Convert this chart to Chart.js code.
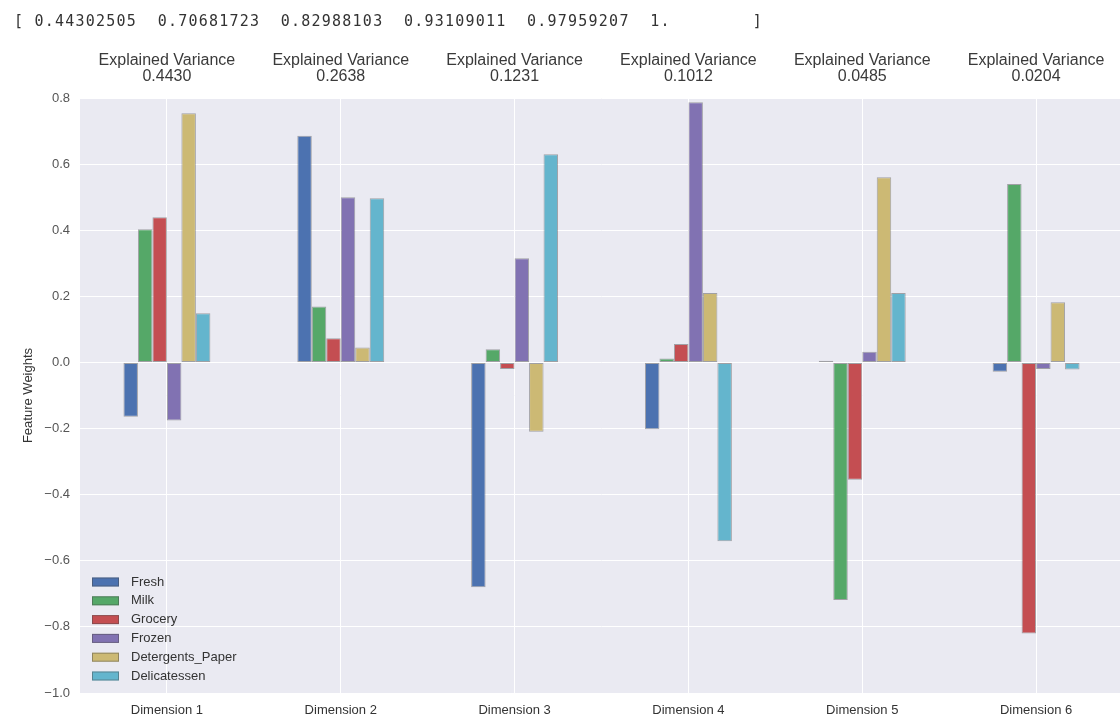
<!DOCTYPE html>
<html>
<head>
<meta charset="utf-8">
<title>PCA feature weights</title>
<script src="https://cdn.jsdelivr.net/npm/chart.js@4.4.0/dist/chart.umd.min.js"></script>
<style>
  html, body { margin: 0; padding: 0; background: #fff; }
  #wrap { position: relative; width: 1120px; height: 718px; overflow: hidden; }
  #pcaChart { position: absolute; left: 0; top: 0; }
  #cumulative {
    position: absolute; left: 14px; top: 11px; margin: 0;
    font: 15px "DejaVu Sans Mono", monospace; letter-spacing: 1.23px;
    color: #333; white-space: pre; line-height: 20px;
  }
</style>
</head>
<body>
<div id="wrap">
  <canvas id="pcaChart" width="1123" height="718"></canvas>
  <pre id="cumulative"></pre>
</div>
<script>
// Data
const cumulativeVariance = ['0.44302505', '0.70681723', '0.82988103', '0.93109011', '0.97959207', '1.        '];
const dimensions = ['Dimension 1', 'Dimension 2', 'Dimension 3', 'Dimension 4', 'Dimension 5', 'Dimension 6'];
const explainedVariance = [0.4430, 0.2638, 0.1231, 0.1012, 0.0485, 0.0204];

const fresh           = [-0.164, 0.686, -0.680, -0.202, 0.005, -0.028];
const milk            = [0.403, 0.169, 0.040, 0.012, -0.719, 0.540];
const grocery         = [0.439, 0.073, -0.020, 0.056, -0.355, -0.820];
const frozen          = [-0.176, 0.500, 0.315, 0.787, 0.032, -0.020];
const detergentsPaper = [0.754, 0.045, -0.210, 0.210, 0.560, 0.182];
const delicatessen    = [0.149, 0.497, 0.630, -0.541, 0.210, -0.021];

// ascending, same order Chart.js builds the ticks
const yTickLabels = ['\u22121.0', '\u22120.8', '\u22120.6', '\u22120.4', '\u22120.2', '0.0', '0.2', '0.4', '0.6', '0.8'];

const fontFamily = '"Liberation Sans", Arial, sans-serif';
Chart.defaults.font.family = fontFamily;

document.getElementById('cumulative').textContent = '[ ' + cumulativeVariance.join('  ') + ']';

function makeSet(label, data, color) {
  return {
    label: label,
    data: data,
    backgroundColor: color,
    borderColor: 'rgba(70, 70, 70, 0.45)',
    borderWidth: 1,
    borderSkipped: false,
    categoryPercentage: 0.5,
    barPercentage: 1.0
  };
}

// seaborn darkgrid background
const plotBackground = {
  id: 'plotBackground',
  beforeDraw(chart) {
    const { ctx, chartArea } = chart;
    ctx.save();
    ctx.fillStyle = '#EAEAF2';
    ctx.fillRect(chartArea.left, chartArea.top, chartArea.right - chartArea.left, chartArea.bottom - chartArea.top);
    ctx.restore();
  }
};

// "Explained Variance" heading over each dimension
const varianceTitles = {
  id: 'varianceTitles',
  afterDraw(chart) {
    const { ctx } = chart;
    const xScale = chart.scales.x;
    ctx.save();
    ctx.fillStyle = '#3a3a3a';
    ctx.font = '16px ' + fontFamily;
    ctx.textAlign = 'center';
    ctx.textBaseline = 'middle';
    explainedVariance.forEach((v, i) => {
      const x = xScale.getPixelForValue(i);
      ctx.fillText('Explained Variance', x, 61);
      ctx.fillText(v.toFixed(4), x, 77);
    });
    ctx.restore();
  }
};

// legend in the lower left corner of the plot, no frame
const cornerLegend = {
  id: 'cornerLegend',
  afterDraw(chart) {
    const { ctx, chartArea } = chart;
    const x0 = chartArea.left + 12;
    const y0 = chartArea.bottom - 111;
    ctx.save();
    ctx.font = '13px ' + fontFamily;
    ctx.textBaseline = 'middle';
    chart.data.datasets.forEach((ds, i) => {
      const y = y0 + i * 18.8;
      ctx.fillStyle = ds.backgroundColor;
      ctx.fillRect(x0, y - 4.5, 27, 9);
      ctx.strokeStyle = 'rgba(70, 70, 70, 0.45)';
      ctx.lineWidth = 1;
      ctx.strokeRect(x0 + 0.5, y - 4, 26, 8);
      ctx.fillStyle = '#333';
      ctx.fillText(ds.label, x0 + 39, y);
    });
    ctx.restore();
  }
};

const ctx = document.getElementById('pcaChart').getContext('2d');
new Chart(ctx, {
  type: 'bar',
  data: {
    labels: dimensions,
    datasets: [
      makeSet('Fresh', fresh, '#4C72B0'),
      makeSet('Milk', milk, '#55A868'),
      makeSet('Grocery', grocery, '#C44E52'),
      makeSet('Frozen', frozen, '#8172B2'),
      makeSet('Detergents_Paper', detergentsPaper, '#CCB974'),
      makeSet('Delicatessen', delicatessen, '#64B5CD')
    ]
  },
  options: {
    responsive: false,
    animation: false,
    devicePixelRatio: 1,
    layout: { padding: { top: 98, right: 0, bottom: 0, left: 0 } },
    plugins: {
      legend: { display: false },
      tooltip: { enabled: false }
    },
    scales: {
      x: {
        grid: { color: '#ffffff', lineWidth: 1, offset: false, drawTicks: false },
        border: { display: false },
        ticks: { color: '#333', font: { size: 13 }, padding: 10, maxRotation: 0 },
        afterFit(scale) { scale.height = 25; }
      },
      y: {
        min: -1.0,
        max: 0.8,
        grid: { color: '#ffffff', lineWidth: 1, drawTicks: false },
        border: { display: false },
        ticks: {
          stepSize: 0.2,
          color: '#555',
          font: { size: 13 },
          padding: 10,
          callback: (value, index) => yTickLabels[index]
        },
        title: {
          display: true,
          text: 'Feature Weights',
          color: '#333',
          font: { size: 13 },
          padding: { top: 21, bottom: 0 }
        },
        afterFit(scale) { scale.width = 80; }
      }
    }
  },
  plugins: [plotBackground, varianceTitles, cornerLegend]
});
</script>
</body>
</html>
